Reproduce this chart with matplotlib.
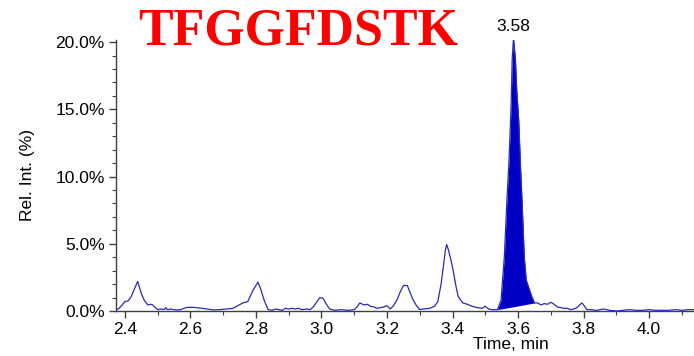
import matplotlib
matplotlib.use("Agg")
import matplotlib.pyplot as plt
import numpy as np
from matplotlib.ticker import MultipleLocator, FuncFormatter

# retention time (min) and relative intensity (%)
time = [2.372, 2.38, 2.39, 2.40, 2.41, 2.42, 2.43, 2.439, 2.45, 2.46,
        2.47, 2.478, 2.485, 2.49, 2.50, 2.51, 2.52, 2.525, 2.53, 2.54,
        2.55, 2.56, 2.57, 2.58, 2.59, 2.61, 2.63, 2.65, 2.67, 2.69,
        2.71, 2.73, 2.745, 2.76, 2.775, 2.79, 2.806, 2.815, 2.825, 2.837,
        2.85, 2.86, 2.87, 2.88, 2.89, 2.90, 2.91, 2.92, 2.93, 2.94,
        2.955, 2.965, 2.975, 2.985, 2.995, 3.005, 3.015, 3.025, 3.04, 3.06,
        3.08, 3.10, 3.11, 3.117, 3.13, 3.14, 3.15, 3.16, 3.17, 3.18,
        3.19, 3.199, 3.21, 3.22, 3.23, 3.24, 3.25, 3.262, 3.27, 3.28,
        3.29, 3.30, 3.31, 3.33, 3.345, 3.355, 3.365, 3.372, 3.378, 3.382,
        3.388, 3.395, 3.402, 3.41, 3.417, 3.425, 3.432, 3.445, 3.46, 3.475,
        3.49, 3.50, 3.51, 3.52, 3.537, 3.548, 3.558, 3.566, 3.572, 3.576,
        3.579, 3.582, 3.586, 3.592, 3.596, 3.602, 3.607, 3.612, 3.619, 3.625,
        3.640, 3.650, 3.66, 3.67, 3.68, 3.69, 3.70, 3.71, 3.72, 3.73,
        3.74, 3.75, 3.76, 3.77, 3.78, 3.79, 3.795, 3.80, 3.81, 3.82,
        3.84, 3.86, 3.88, 3.90, 3.92, 3.94, 3.96, 3.98, 4.00, 4.02,
        4.04, 4.06, 4.08, 4.10, 4.12, 4.137]
intensity = [0.1, 0.15, 0.4, 0.7, 0.75, 1.1, 1.7, 2.2, 1.3, 0.75,
             0.45, 0.5, 0.45, 0.3, 0.1, 0.15, 0.1, 0.25, 0.1, 0.15,
             0.1, 0.08, 0.1, 0.2, 0.27, 0.27, 0.22, 0.15, 0.08, 0.1,
             0.15, 0.2, 0.4, 0.6, 0.7, 1.5, 2.15, 1.6, 0.8, 0.1,
             0.05, 0.15, 0.1, 0.05, 0.2, 0.15, 0.2, 0.15, 0.2, 0.1,
             0.15, 0.1, 0.3, 0.65, 1.0, 0.95, 0.5, 0.15, 0.05, 0.1,
             0.05, 0.1, 0.35, 0.6, 0.45, 0.5, 0.35, 0.3, 0.2, 0.25,
             0.3, 0.4, 0.15, 0.4, 0.8, 1.4, 1.9, 1.9, 1.4, 0.8,
             0.4, 0.1, 0.15, 0.2, 0.35, 0.7, 2.0, 3.3, 4.5, 4.95,
             4.5, 3.8, 3.0, 1.9, 1.1, 0.8, 0.6, 0.5, 0.35, 0.25,
             0.2, 0.35, 0.15, 0.1, 0.1, 0.8, 4.0, 8.25, 11.0, 13.45,
             15.5, 18.7, 20.3, 18.7, 16.4, 14.2, 11.0, 8.25, 4.0, 2.3,
             1.2, 0.6, 0.6, 0.45, 0.55, 0.5, 0.65, 0.5, 0.3, 0.25,
             0.2, 0.2, 0.1, 0.15, 0.25, 0.5, 0.6, 0.45, 0.1, 0.1,
             0.05, 0.15, 0.05, 0.0, 0.05, 0.1, 0.05, 0.05, 0.1, 0.05,
             0.05, 0.05, 0.1, 0.05, 0.1, 0.1]

# integrated peak: start/end of the drawn baseline
peak_start = (3.537, 0.1)
peak_end = (3.650, 0.6)
peak_label = "3.58"
peak_apex = 3.586
title = "TFGGFDSTK"

t = np.array(time)
y = np.array(intensity)

fig = plt.figure(figsize=(6.94, 3.56), dpi=100)
ax = fig.add_axes([0.167, 0.1264, 0.833, 0.761])

ax.plot(t, y, color="#2a2ab4", lw=0.9, zorder=3)

mask = (t >= peak_start[0]) & (t <= peak_end[0])
base = np.interp(t[mask], [peak_start[0], peak_end[0]], [peak_start[1], peak_end[1]])
ax.fill_between(t[mask], base, y[mask], color="#0000c4", lw=0, zorder=2)

ax.set_xlim(2.3725, 4.137)
ax.set_ylim(0, 20.15)

for s in ["top", "right"]:
    ax.spines[s].set_visible(False)
for s in ["left", "bottom"]:
    ax.spines[s].set_color("#404040")
    ax.spines[s].set_linewidth(1.0)

ax.xaxis.set_major_locator(MultipleLocator(0.2))
ax.xaxis.set_minor_locator(MultipleLocator(0.1))
ax.yaxis.set_major_locator(MultipleLocator(5))
ax.yaxis.set_minor_locator(MultipleLocator(1))
ax.yaxis.set_major_formatter(FuncFormatter(lambda v, p: f"{v:.1f}%"))
ax.xaxis.set_major_formatter(FuncFormatter(lambda v, p: f"{v:.1f}"))

tick_font = "Liberation Sans"
ax.tick_params(which="major", length=5, width=1, color="#404040", labelsize=12.5, pad=3)
ax.tick_params(which="minor", length=3, width=0.8, color="#404040")
for lab in ax.get_xticklabels() + ax.get_yticklabels():
    lab.set_fontfamily(tick_font)

ax.annotate(peak_label, (peak_apex, 20.3), xytext=(0, 3), textcoords="offset points",
            ha="center", va="bottom", fontsize=12.5, family=tick_font,
            annotation_clip=False)

fig.text(0.040, 0.508, "Rel. Int. (%)", rotation=90, ha="center", va="center",
         fontsize=12.5, family=tick_font)
fig.text(0.736, 0.031, "Time, min", ha="center", va="center",
         fontsize=12.5, family=tick_font)
fig.text(0.43, 0.8736, title, ha="center", va="baseline", color="red",
         fontsize=37.4, fontweight="bold", family="Liberation Serif")

fig.savefig("out.png", dpi=100)
